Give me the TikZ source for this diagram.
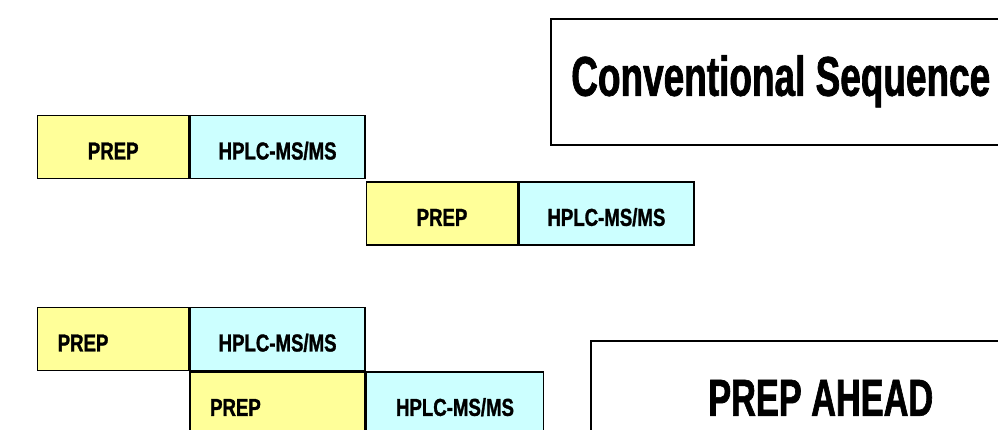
\documentclass[tikz,border=0pt]{standalone}
\usepackage{fontspec}
\usepackage{tikz}
\usetikzlibrary{positioning}
\newfontfamily\runfont[FakeStretch=0.76,FakeBold=1.2]{Liberation Sans}
\newfontfamily\headfont[FakeStretch=0.66,FakeBold=1.2]{Liberation Sans}
\definecolor{PrepYellow}{RGB}{255,255,153}
\definecolor{RunCyan}{RGB}{204,255,255}

\begin{document}
\begin{tikzpicture}[x=1pt,y=-1pt,
    block/.style={draw=black,line width=1.4pt,inner sep=0pt,minimum height=63pt,
      text height=24.5pt,text depth=0pt,font=\runfont\bfseries\fontsize{24.5}{28}\selectfont},
    prepbox/.style={block,fill=PrepYellow,minimum width=151pt},
    hplcbox/.style={block,fill=RunCyan,minimum width=175pt},
    prepleft/.style={prepbox,text width=111pt,align=left,inner xsep=20pt},
    headbox/.style={draw=black,line width=1.5pt,fill=white,inner sep=0pt,
      minimum width=460pt,minimum height=126pt,anchor=north west}
  ]
  \useasboundingbox (0,0) rectangle (998,429);
  \clip (0,0) rectangle (998,429);

  % headings
  \node[headbox,text height=28pt,text depth=0pt,
    font=\headfont\bfseries\fontsize{56}{60}\selectfont] (conv) at (550,18) {Conventional Sequence};
  \node[headbox,text height=24pt,text depth=0pt,
    font=\headfont\bfseries\fontsize{52}{56}\selectfont] (ahead) at (590,340) {PREP AHEAD};

  % conventional: next prep waits for the run
  \node[prepbox,anchor=north west] (prepA) at (37,115) {PREP};
  \node[hplcbox,right=0pt of prepA] (hplcA) {HPLC-MS/MS};
  \node[prepbox,below right=2pt and 0pt of hplcA] (prepB) {PREP};
  \node[hplcbox,right=0pt of prepB] (hplcB) {HPLC-MS/MS};

  % prep ahead: next prep runs alongside
  \node[prepleft,anchor=north west] (prepC) at (37,307) {PREP};
  \node[hplcbox,right=0pt of prepC] (hplcC) {HPLC-MS/MS};
  \node[prepleft,minimum width=175pt,text width=135pt,below=0pt of hplcC] (prepD) {PREP};
  \node[hplcbox,minimum width=177pt,right=0pt of prepD] (hplcD) {HPLC-MS/MS};
\end{tikzpicture}
\end{document}
